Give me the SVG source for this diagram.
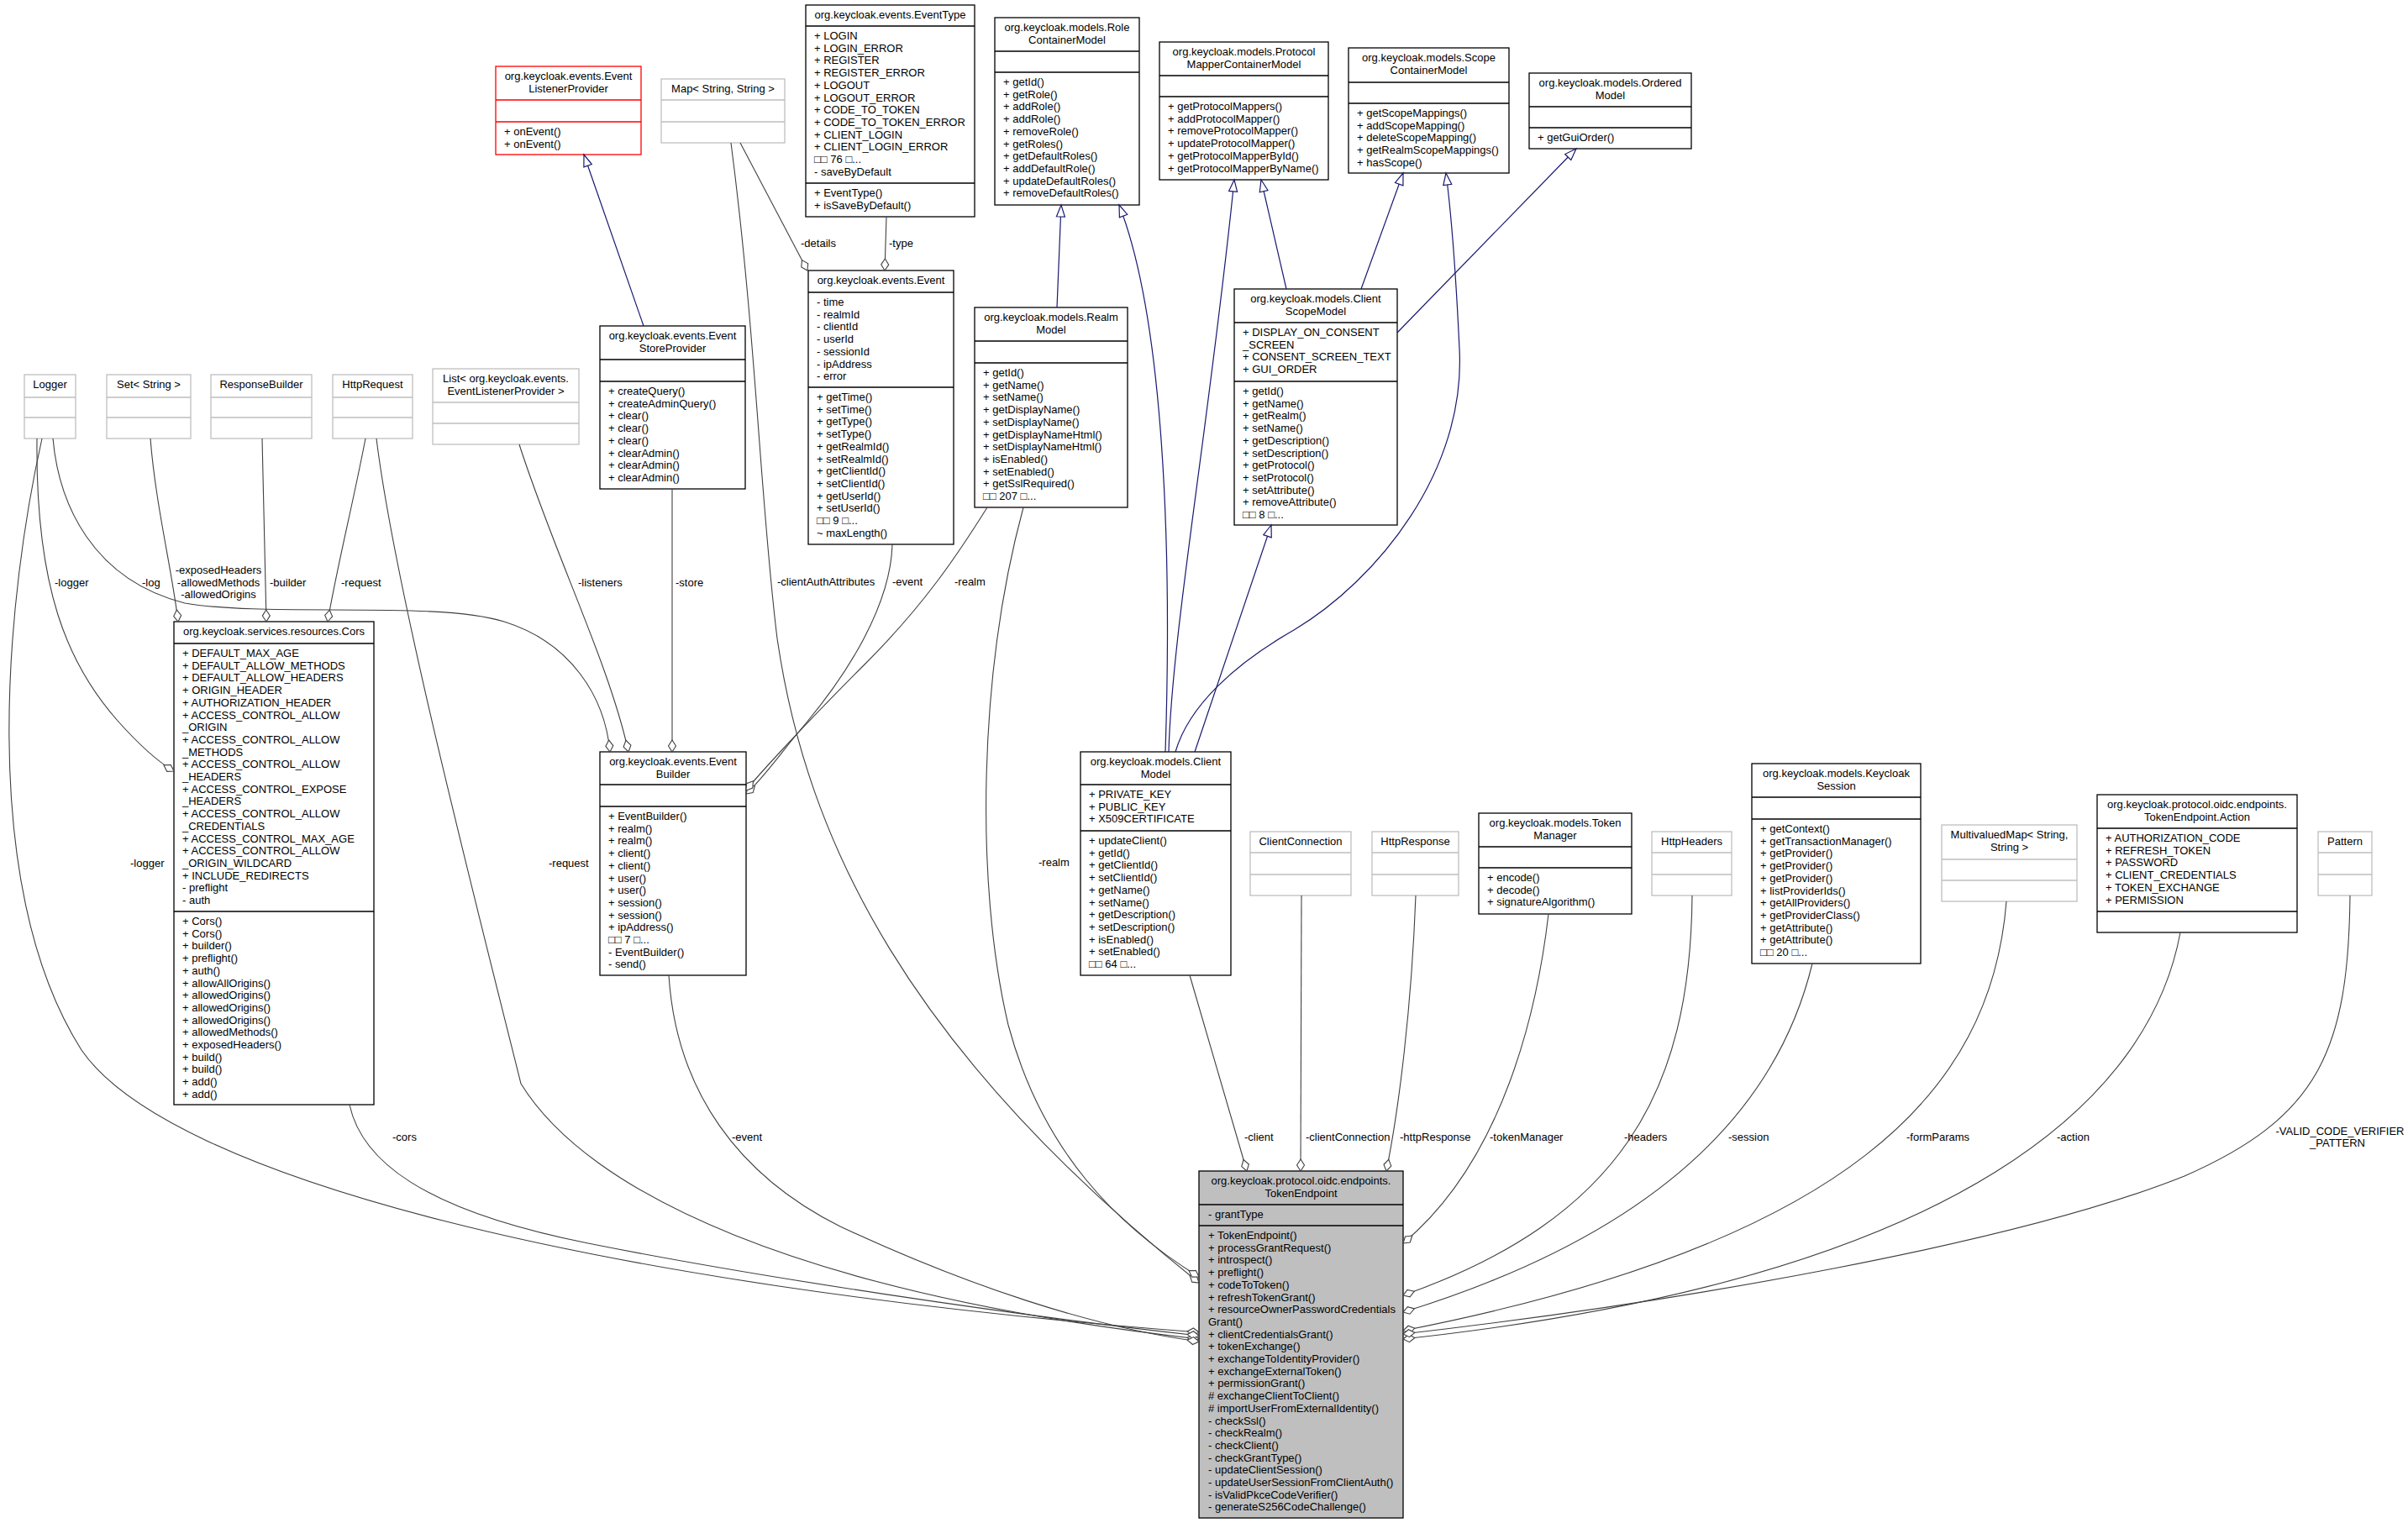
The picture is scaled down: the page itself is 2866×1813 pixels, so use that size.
<svg xmlns="http://www.w3.org/2000/svg" width="2866" height="1813" viewBox="0 0 2866 1813">
<defs>
<style>
.t{font-family:"Liberation Sans",Arial,Helvetica,sans-serif;font-size:13px;fill:#000}
.c{text-anchor:middle}
.b{fill:#fff;stroke:#000;stroke-width:1.3}
.g{fill:#fff;stroke:#bfbfbf;stroke-width:1.3}
.r{fill:#fff;stroke:#ff0000;stroke-width:1.3}
.m{fill:#bfbfbf;stroke:#000;stroke-width:1.3}
.dl{fill:none;stroke:#000;stroke-width:1.3}
.dg{fill:none;stroke:#bfbfbf;stroke-width:1.3}
.dr{fill:none;stroke:#ff0000;stroke-width:1.3}
.e{fill:none;stroke:#404040;stroke-width:1.1;marker-end:url(#dia)}
.i{fill:none;stroke:#191970;stroke-width:1.2;marker-end:url(#tri)}
</style>
<marker id="dia" markerUnits="userSpaceOnUse" markerWidth="18" markerHeight="14" viewBox="-16 -7 18 14" refX="0" refY="0" orient="auto" overflow="visible">
<path d="M0,0 L-7,-4.5 L-14,0 L-7,4.5 Z" fill="#fff" stroke="#404040" stroke-width="1.1"/>
</marker>
<marker id="tri" markerUnits="userSpaceOnUse" markerWidth="18" markerHeight="14" viewBox="-16 -7 18 14" refX="0" refY="0" orient="auto" overflow="visible">
<path d="M0,0 L-14,-5 L-14,5 Z" fill="#fff" stroke="#191970" stroke-width="1.2"/>
</marker>
</defs>
<rect x="0" y="0" width="2866" height="1813" fill="#fff"/>

<g id="nodes">
<g id="Logger">
<rect class="g" x="29" y="446" width="61" height="76"/>
<path class="dg" d="M29,473H90M29,497H90"/>
<text class="t c" x="59.5" y="462">Logger</text>
</g>
<g id="SetString">
<rect class="g" x="127" y="446" width="100" height="76"/>
<path class="dg" d="M127,473H227M127,497H227"/>
<text class="t c" x="177" y="462">Set&lt; String &gt;</text>
</g>
<g id="ResponseBuilder">
<rect class="g" x="251" y="446" width="120" height="76"/>
<path class="dg" d="M251,473H371M251,497H371"/>
<text class="t c" x="311" y="462">ResponseBuilder</text>
</g>
<g id="HttpRequest">
<rect class="g" x="396" y="446" width="95" height="76"/>
<path class="dg" d="M396,473H491M396,497H491"/>
<text class="t c" x="443.5" y="462">HttpRequest</text>
</g>
<g id="ListEventListenerProvider">
<rect class="g" x="515" y="439" width="174" height="90"/>
<path class="dg" d="M515,479H689M515,504H689"/>
<text class="t c" x="602" y="455"><tspan x="602">List&lt; org.keycloak.events.</tspan><tspan x="602" dy="14.7">EventListenerProvider &gt;</tspan></text>
</g>
<g id="EventListenerProvider">
<rect class="r" x="590" y="79" width="173" height="105"/>
<path class="dr" d="M590,119H763M590,145H763"/>
<text class="t c" x="676.5" y="95"><tspan x="676.5">org.keycloak.events.Event</tspan><tspan x="676.5" dy="14.7">ListenerProvider</tspan></text>
<text class="t" x="600" y="161"><tspan x="600">+ onEvent()</tspan><tspan x="600" dy="14.7">+ onEvent()</tspan></text>
</g>
<g id="MapStringString">
<rect class="g" x="787" y="94" width="147" height="76"/>
<path class="dg" d="M787,119H934M787,145H934"/>
<text class="t c" x="860.5" y="110">Map&lt; String, String &gt;</text>
</g>
<g id="EventType">
<rect class="b" x="959" y="6" width="201" height="252"/>
<path class="dl" d="M959,31H1160M959,218H1160"/>
<text class="t c" x="1059.5" y="22">org.keycloak.events.EventType</text>
<text class="t" x="969" y="47"><tspan x="969">+ LOGIN</tspan><tspan x="969" dy="14.7">+ LOGIN_ERROR</tspan><tspan x="969" dy="14.7">+ REGISTER</tspan><tspan x="969" dy="14.7">+ REGISTER_ERROR</tspan><tspan x="969" dy="14.7">+ LOGOUT</tspan><tspan x="969" dy="14.7">+ LOGOUT_ERROR</tspan><tspan x="969" dy="14.7">+ CODE_TO_TOKEN</tspan><tspan x="969" dy="14.7">+ CODE_TO_TOKEN_ERROR</tspan><tspan x="969" dy="14.7">+ CLIENT_LOGIN</tspan><tspan x="969" dy="14.7">+ CLIENT_LOGIN_ERROR</tspan><tspan x="969" dy="14.7">□□ 76 □...</tspan><tspan x="969" dy="14.7">- saveByDefault</tspan></text>
<text class="t" x="969" y="234"><tspan x="969">+ EventType()</tspan><tspan x="969" dy="14.7">+ isSaveByDefault()</tspan></text>
</g>
<g id="RoleContainerModel">
<rect class="b" x="1184" y="21" width="172" height="223"/>
<path class="dl" d="M1184,61H1356M1184,86H1356"/>
<text class="t c" x="1270" y="37"><tspan x="1270">org.keycloak.models.Role</tspan><tspan x="1270" dy="14.7">ContainerModel</tspan></text>
<text class="t" x="1194" y="102"><tspan x="1194">+ getId()</tspan><tspan x="1194" dy="14.7">+ getRole()</tspan><tspan x="1194" dy="14.7">+ addRole()</tspan><tspan x="1194" dy="14.7">+ addRole()</tspan><tspan x="1194" dy="14.7">+ removeRole()</tspan><tspan x="1194" dy="14.7">+ getRoles()</tspan><tspan x="1194" dy="14.7">+ getDefaultRoles()</tspan><tspan x="1194" dy="14.7">+ addDefaultRole()</tspan><tspan x="1194" dy="14.7">+ updateDefaultRoles()</tspan><tspan x="1194" dy="14.7">+ removeDefaultRoles()</tspan></text>
</g>
<g id="ProtocolMapperContainerModel">
<rect class="b" x="1380" y="50" width="201" height="164"/>
<path class="dl" d="M1380,90H1581M1380,115H1581"/>
<text class="t c" x="1480.5" y="66"><tspan x="1480.5">org.keycloak.models.Protocol</tspan><tspan x="1480.5" dy="14.7">MapperContainerModel</tspan></text>
<text class="t" x="1390" y="131"><tspan x="1390">+ getProtocolMappers()</tspan><tspan x="1390" dy="14.7">+ addProtocolMapper()</tspan><tspan x="1390" dy="14.7">+ removeProtocolMapper()</tspan><tspan x="1390" dy="14.7">+ updateProtocolMapper()</tspan><tspan x="1390" dy="14.7">+ getProtocolMapperById()</tspan><tspan x="1390" dy="14.7">+ getProtocolMapperByName()</tspan></text>
</g>
<g id="ScopeContainerModel">
<rect class="b" x="1605" y="57" width="191" height="149"/>
<path class="dl" d="M1605,98H1796M1605,123H1796"/>
<text class="t c" x="1700.5" y="73"><tspan x="1700.5">org.keycloak.models.Scope</tspan><tspan x="1700.5" dy="14.7">ContainerModel</tspan></text>
<text class="t" x="1615" y="139"><tspan x="1615">+ getScopeMappings()</tspan><tspan x="1615" dy="14.7">+ addScopeMapping()</tspan><tspan x="1615" dy="14.7">+ deleteScopeMapping()</tspan><tspan x="1615" dy="14.7">+ getRealmScopeMappings()</tspan><tspan x="1615" dy="14.7">+ hasScope()</tspan></text>
</g>
<g id="OrderedModel">
<rect class="b" x="1820" y="87" width="193" height="90"/>
<path class="dl" d="M1820,127H2013M1820,152H2013"/>
<text class="t c" x="1916.5" y="103"><tspan x="1916.5">org.keycloak.models.Ordered</tspan><tspan x="1916.5" dy="14.7">Model</tspan></text>
<text class="t" x="1830" y="168">+ getGuiOrder()</text>
</g>
<g id="Event">
<rect class="b" x="962" y="322" width="173" height="326"/>
<path class="dl" d="M962,348H1135M962,461H1135"/>
<text class="t c" x="1048.5" y="338">org.keycloak.events.Event</text>
<text class="t" x="972" y="364"><tspan x="972">- time</tspan><tspan x="972" dy="14.7">- realmId</tspan><tspan x="972" dy="14.7">- clientId</tspan><tspan x="972" dy="14.7">- userId</tspan><tspan x="972" dy="14.7">- sessionId</tspan><tspan x="972" dy="14.7">- ipAddress</tspan><tspan x="972" dy="14.7">- error</tspan></text>
<text class="t" x="972" y="477"><tspan x="972">+ getTime()</tspan><tspan x="972" dy="14.7">+ setTime()</tspan><tspan x="972" dy="14.7">+ getType()</tspan><tspan x="972" dy="14.7">+ setType()</tspan><tspan x="972" dy="14.7">+ getRealmId()</tspan><tspan x="972" dy="14.7">+ setRealmId()</tspan><tspan x="972" dy="14.7">+ getClientId()</tspan><tspan x="972" dy="14.7">+ setClientId()</tspan><tspan x="972" dy="14.7">+ getUserId()</tspan><tspan x="972" dy="14.7">+ setUserId()</tspan><tspan x="972" dy="14.7">□□ 9 □...</tspan><tspan x="972" dy="14.7">~ maxLength()</tspan></text>
</g>
<g id="RealmModel">
<rect class="b" x="1160" y="366" width="182" height="238"/>
<path class="dl" d="M1160,406H1342M1160,432H1342"/>
<text class="t c" x="1251" y="382"><tspan x="1251">org.keycloak.models.Realm</tspan><tspan x="1251" dy="14.7">Model</tspan></text>
<text class="t" x="1170" y="448"><tspan x="1170">+ getId()</tspan><tspan x="1170" dy="14.7">+ getName()</tspan><tspan x="1170" dy="14.7">+ setName()</tspan><tspan x="1170" dy="14.7">+ getDisplayName()</tspan><tspan x="1170" dy="14.7">+ setDisplayName()</tspan><tspan x="1170" dy="14.7">+ getDisplayNameHtml()</tspan><tspan x="1170" dy="14.7">+ setDisplayNameHtml()</tspan><tspan x="1170" dy="14.7">+ isEnabled()</tspan><tspan x="1170" dy="14.7">+ setEnabled()</tspan><tspan x="1170" dy="14.7">+ getSslRequired()</tspan><tspan x="1170" dy="14.7">□□ 207 □...</tspan></text>
</g>
<g id="EventStoreProvider">
<rect class="b" x="714" y="388" width="173" height="194"/>
<path class="dl" d="M714,428H887M714,454H887"/>
<text class="t c" x="800.5" y="404"><tspan x="800.5">org.keycloak.events.Event</tspan><tspan x="800.5" dy="14.7">StoreProvider</tspan></text>
<text class="t" x="724" y="470"><tspan x="724">+ createQuery()</tspan><tspan x="724" dy="14.7">+ createAdminQuery()</tspan><tspan x="724" dy="14.7">+ clear()</tspan><tspan x="724" dy="14.7">+ clear()</tspan><tspan x="724" dy="14.7">+ clear()</tspan><tspan x="724" dy="14.7">+ clearAdmin()</tspan><tspan x="724" dy="14.7">+ clearAdmin()</tspan><tspan x="724" dy="14.7">+ clearAdmin()</tspan></text>
</g>
<g id="ClientScopeModel">
<rect class="b" x="1469" y="344" width="194" height="281"/>
<path class="dl" d="M1469,384H1663M1469,454H1663"/>
<text class="t c" x="1566" y="360"><tspan x="1566">org.keycloak.models.Client</tspan><tspan x="1566" dy="14.7">ScopeModel</tspan></text>
<text class="t" x="1479" y="400"><tspan x="1479">+ DISPLAY_ON_CONSENT</tspan><tspan x="1479" dy="14.7">_SCREEN</tspan><tspan x="1479" dy="14.7">+ CONSENT_SCREEN_TEXT</tspan><tspan x="1479" dy="14.7">+ GUI_ORDER</tspan></text>
<text class="t" x="1479" y="470"><tspan x="1479">+ getId()</tspan><tspan x="1479" dy="14.7">+ getName()</tspan><tspan x="1479" dy="14.7">+ getRealm()</tspan><tspan x="1479" dy="14.7">+ setName()</tspan><tspan x="1479" dy="14.7">+ getDescription()</tspan><tspan x="1479" dy="14.7">+ setDescription()</tspan><tspan x="1479" dy="14.7">+ getProtocol()</tspan><tspan x="1479" dy="14.7">+ setProtocol()</tspan><tspan x="1479" dy="14.7">+ setAttribute()</tspan><tspan x="1479" dy="14.7">+ removeAttribute()</tspan><tspan x="1479" dy="14.7">□□ 8 □...</tspan></text>
</g>
<g id="Cors">
<rect class="b" x="207" y="740" width="238" height="575"/>
<path class="dl" d="M207,766H445M207,1085H445"/>
<text class="t c" x="326" y="756">org.keycloak.services.resources.Cors</text>
<text class="t" x="217" y="782"><tspan x="217">+ DEFAULT_MAX_AGE</tspan><tspan x="217" dy="14.7">+ DEFAULT_ALLOW_METHODS</tspan><tspan x="217" dy="14.7">+ DEFAULT_ALLOW_HEADERS</tspan><tspan x="217" dy="14.7">+ ORIGIN_HEADER</tspan><tspan x="217" dy="14.7">+ AUTHORIZATION_HEADER</tspan><tspan x="217" dy="14.7">+ ACCESS_CONTROL_ALLOW</tspan><tspan x="217" dy="14.7">_ORIGIN</tspan><tspan x="217" dy="14.7">+ ACCESS_CONTROL_ALLOW</tspan><tspan x="217" dy="14.7">_METHODS</tspan><tspan x="217" dy="14.7">+ ACCESS_CONTROL_ALLOW</tspan><tspan x="217" dy="14.7">_HEADERS</tspan><tspan x="217" dy="14.7">+ ACCESS_CONTROL_EXPOSE</tspan><tspan x="217" dy="14.7">_HEADERS</tspan><tspan x="217" dy="14.7">+ ACCESS_CONTROL_ALLOW</tspan><tspan x="217" dy="14.7">_CREDENTIALS</tspan><tspan x="217" dy="14.7">+ ACCESS_CONTROL_MAX_AGE</tspan><tspan x="217" dy="14.7">+ ACCESS_CONTROL_ALLOW</tspan><tspan x="217" dy="14.7">_ORIGIN_WILDCARD</tspan><tspan x="217" dy="14.7">+ INCLUDE_REDIRECTS</tspan><tspan x="217" dy="14.7">- preflight</tspan><tspan x="217" dy="14.7">- auth</tspan></text>
<text class="t" x="217" y="1101"><tspan x="217">+ Cors()</tspan><tspan x="217" dy="14.7">+ Cors()</tspan><tspan x="217" dy="14.7">+ builder()</tspan><tspan x="217" dy="14.7">+ preflight()</tspan><tspan x="217" dy="14.7">+ auth()</tspan><tspan x="217" dy="14.7">+ allowAllOrigins()</tspan><tspan x="217" dy="14.7">+ allowedOrigins()</tspan><tspan x="217" dy="14.7">+ allowedOrigins()</tspan><tspan x="217" dy="14.7">+ allowedOrigins()</tspan><tspan x="217" dy="14.7">+ allowedMethods()</tspan><tspan x="217" dy="14.7">+ exposedHeaders()</tspan><tspan x="217" dy="14.7">+ build()</tspan><tspan x="217" dy="14.7">+ build()</tspan><tspan x="217" dy="14.7">+ add()</tspan><tspan x="217" dy="14.7">+ add()</tspan></text>
</g>
<g id="EventBuilder">
<rect class="b" x="714" y="895" width="174" height="266"/>
<path class="dl" d="M714,934H888M714,960H888"/>
<text class="t c" x="801" y="911"><tspan x="801">org.keycloak.events.Event</tspan><tspan x="801" dy="14.7">Builder</tspan></text>
<text class="t" x="724" y="976"><tspan x="724">+ EventBuilder()</tspan><tspan x="724" dy="14.7">+ realm()</tspan><tspan x="724" dy="14.7">+ realm()</tspan><tspan x="724" dy="14.7">+ client()</tspan><tspan x="724" dy="14.7">+ client()</tspan><tspan x="724" dy="14.7">+ user()</tspan><tspan x="724" dy="14.7">+ user()</tspan><tspan x="724" dy="14.7">+ session()</tspan><tspan x="724" dy="14.7">+ session()</tspan><tspan x="724" dy="14.7">+ ipAddress()</tspan><tspan x="724" dy="14.7">□□ 7 □...</tspan><tspan x="724" dy="14.7">- EventBuilder()</tspan><tspan x="724" dy="14.7">- send()</tspan></text>
</g>
<g id="ClientModel">
<rect class="b" x="1286" y="895" width="179" height="266"/>
<path class="dl" d="M1286,934H1465M1286,989H1465"/>
<text class="t c" x="1375.5" y="911"><tspan x="1375.5">org.keycloak.models.Client</tspan><tspan x="1375.5" dy="14.7">Model</tspan></text>
<text class="t" x="1296" y="950"><tspan x="1296">+ PRIVATE_KEY</tspan><tspan x="1296" dy="14.7">+ PUBLIC_KEY</tspan><tspan x="1296" dy="14.7">+ X509CERTIFICATE</tspan></text>
<text class="t" x="1296" y="1005"><tspan x="1296">+ updateClient()</tspan><tspan x="1296" dy="14.7">+ getId()</tspan><tspan x="1296" dy="14.7">+ getClientId()</tspan><tspan x="1296" dy="14.7">+ setClientId()</tspan><tspan x="1296" dy="14.7">+ getName()</tspan><tspan x="1296" dy="14.7">+ setName()</tspan><tspan x="1296" dy="14.7">+ getDescription()</tspan><tspan x="1296" dy="14.7">+ setDescription()</tspan><tspan x="1296" dy="14.7">+ isEnabled()</tspan><tspan x="1296" dy="14.7">+ setEnabled()</tspan><tspan x="1296" dy="14.7">□□ 64 □...</tspan></text>
</g>
<g id="ClientConnection">
<rect class="g" x="1488" y="990" width="120" height="76"/>
<path class="dg" d="M1488,1015H1608M1488,1041H1608"/>
<text class="t c" x="1548" y="1006">ClientConnection</text>
</g>
<g id="HttpResponse">
<rect class="g" x="1633" y="990" width="103" height="76"/>
<path class="dg" d="M1633,1015H1736M1633,1041H1736"/>
<text class="t c" x="1684.5" y="1006">HttpResponse</text>
</g>
<g id="TokenManager">
<rect class="b" x="1760" y="968" width="182" height="120"/>
<path class="dl" d="M1760,1008H1942M1760,1033H1942"/>
<text class="t c" x="1851" y="984"><tspan x="1851">org.keycloak.models.Token</tspan><tspan x="1851" dy="14.7">Manager</tspan></text>
<text class="t" x="1770" y="1049"><tspan x="1770">+ encode()</tspan><tspan x="1770" dy="14.7">+ decode()</tspan><tspan x="1770" dy="14.7">+ signatureAlgorithm()</tspan></text>
</g>
<g id="HttpHeaders">
<rect class="g" x="1966" y="990" width="95" height="76"/>
<path class="dg" d="M1966,1015H2061M1966,1041H2061"/>
<text class="t c" x="2013.5" y="1006">HttpHeaders</text>
</g>
<g id="KeycloakSession">
<rect class="b" x="2085" y="909" width="201" height="238"/>
<path class="dl" d="M2085,949H2286M2085,975H2286"/>
<text class="t c" x="2185.5" y="925"><tspan x="2185.5">org.keycloak.models.Keycloak</tspan><tspan x="2185.5" dy="14.7">Session</tspan></text>
<text class="t" x="2095" y="991"><tspan x="2095">+ getContext()</tspan><tspan x="2095" dy="14.7">+ getTransactionManager()</tspan><tspan x="2095" dy="14.7">+ getProvider()</tspan><tspan x="2095" dy="14.7">+ getProvider()</tspan><tspan x="2095" dy="14.7">+ getProvider()</tspan><tspan x="2095" dy="14.7">+ listProviderIds()</tspan><tspan x="2095" dy="14.7">+ getAllProviders()</tspan><tspan x="2095" dy="14.7">+ getProviderClass()</tspan><tspan x="2095" dy="14.7">+ getAttribute()</tspan><tspan x="2095" dy="14.7">+ getAttribute()</tspan><tspan x="2095" dy="14.7">□□ 20 □...</tspan></text>
</g>
<g id="MultivaluedMap">
<rect class="g" x="2311" y="982" width="161" height="91"/>
<path class="dg" d="M2311,1023H2472M2311,1048H2472"/>
<text class="t c" x="2391.5" y="998"><tspan x="2391.5">MultivaluedMap&lt; String,</tspan><tspan x="2391.5" dy="14.7">String &gt;</tspan></text>
</g>
<g id="TokenEndpointAction">
<rect class="b" x="2496" y="946" width="238" height="164"/>
<path class="dl" d="M2496,986H2734M2496,1085H2734"/>
<text class="t c" x="2615" y="962"><tspan x="2615">org.keycloak.protocol.oidc.endpoints.</tspan><tspan x="2615" dy="14.7">TokenEndpoint.Action</tspan></text>
<text class="t" x="2506" y="1002"><tspan x="2506">+ AUTHORIZATION_CODE</tspan><tspan x="2506" dy="14.7">+ REFRESH_TOKEN</tspan><tspan x="2506" dy="14.7">+ PASSWORD</tspan><tspan x="2506" dy="14.7">+ CLIENT_CREDENTIALS</tspan><tspan x="2506" dy="14.7">+ TOKEN_EXCHANGE</tspan><tspan x="2506" dy="14.7">+ PERMISSION</tspan></text>
</g>
<g id="Pattern">
<rect class="g" x="2759" y="990" width="64" height="76"/>
<path class="dg" d="M2759,1015H2823M2759,1041H2823"/>
<text class="t c" x="2791" y="1006">Pattern</text>
</g>
<g id="TokenEndpoint">
<rect class="m" x="1427" y="1394" width="243" height="413"/>
<path class="dl" d="M1427,1434H1670M1427,1459H1670"/>
<text class="t c" x="1548.5" y="1410"><tspan x="1548.5">org.keycloak.protocol.oidc.endpoints.</tspan><tspan x="1548.5" dy="14.7">TokenEndpoint</tspan></text>
<text class="t" x="1438" y="1450">- grantType</text>
<text class="t" x="1438" y="1475"><tspan x="1438">+ TokenEndpoint()</tspan><tspan x="1438" dy="14.7">+ processGrantRequest()</tspan><tspan x="1438" dy="14.7">+ introspect()</tspan><tspan x="1438" dy="14.7">+ preflight()</tspan><tspan x="1438" dy="14.7">+ codeToToken()</tspan><tspan x="1438" dy="14.7">+ refreshTokenGrant()</tspan><tspan x="1438" dy="14.7">+ resourceOwnerPasswordCredentials</tspan><tspan x="1438" dy="14.7">Grant()</tspan><tspan x="1438" dy="14.7">+ clientCredentialsGrant()</tspan><tspan x="1438" dy="14.7">+ tokenExchange()</tspan><tspan x="1438" dy="14.7">+ exchangeToIdentityProvider()</tspan><tspan x="1438" dy="14.7">+ exchangeExternalToken()</tspan><tspan x="1438" dy="14.7">+ permissionGrant()</tspan><tspan x="1438" dy="14.7"># exchangeClientToClient()</tspan><tspan x="1438" dy="14.7"># importUserFromExternalIdentity()</tspan><tspan x="1438" dy="14.7">- checkSsl()</tspan><tspan x="1438" dy="14.7">- checkRealm()</tspan><tspan x="1438" dy="14.7">- checkClient()</tspan><tspan x="1438" dy="14.7">- checkGrantType()</tspan><tspan x="1438" dy="14.7">- updateClientSession()</tspan><tspan x="1438" dy="14.7">- updateUserSessionFromClientAuth()</tspan><tspan x="1438" dy="14.7">- isValidPkceCodeVerifier()</tspan><tspan x="1438" dy="14.7">- generateS256CodeChallenge()</tspan></text>
</g>
</g>

<g id="connectors">
<!-- generalizations -->
<path class="i" d="M766,388 L695,184"/>
<path class="i" d="M1258,366 L1263,244"/>
<path class="i" d="M1387,895 C1395,650 1385,380 1332,244"/>
<path class="i" d="M1391,895 C1395,750 1440,500 1469,214"/>
<path class="i" d="M1531,344 L1501,214"/>
<path class="i" d="M1620,344 L1670,206"/>
<path class="i" d="M1663,396 L1876,177"/>
<path class="i" d="M1399,895 C1415,840 1470,790 1540,750 C1640,690 1745,560 1737,415 C1733,330 1728,260 1721,206"/>
<path class="i" d="M1422,895 L1513,625"/>
<!-- usage relations -->
<path class="e" d="M50,522 C10,700 -30,1050 97,1250 C200,1400 700,1530 1427,1586"/>
<path class="e" d="M44,522 C42,700 80,790 140,858 C165,886 185,905 207,918"/>
<path class="e" d="M63,522 C70,600 110,690 220,718 C320,735 520,715 600,740 C680,765 720,830 726,895"/>
<path class="e" d="M179,522 C185,600 205,680 212,740"/>
<path class="e" d="M312,522 L317,740"/>
<path class="e" d="M435,522 C420,600 400,680 390,740"/>
<path class="e" d="M448,522 C470,700 560,1050 620,1290 C700,1420 950,1540 1427,1594"/>
<path class="e" d="M618,529 C660,660 725,790 748,895"/>
<path class="e" d="M800,582 L800,895"/>
<path class="e" d="M1062,648 C1060,720 1010,800 960,860 C930,895 910,925 888,945"/>
<path class="e" d="M1175,604 C1140,660 1100,720 1030,790 C960,860 900,925 888,941"/>
<path class="e" d="M881,170 L961,322"/>
<path class="e" d="M1055,258 L1053,322"/>
<path class="e" d="M870,170 C900,400 905,600 925,760 C960,1000 1080,1250 1427,1527"/>
<path class="e" d="M1218,604 C1165,800 1160,1050 1200,1220 C1240,1370 1330,1460 1427,1520"/>
<path class="e" d="M416,1315 C430,1380 500,1440 700,1480 C900,1520 1200,1565 1427,1590"/>
<path class="e" d="M796,1161 C805,1300 880,1400 1000,1460 C1150,1530 1300,1580 1427,1597"/>
<path class="e" d="M1416,1161 L1484,1394"/>
<path class="e" d="M1549,1066 L1548,1394"/>
<path class="e" d="M1685,1066 C1680,1200 1665,1320 1650,1394"/>
<path class="e" d="M1843,1088 C1830,1200 1790,1380 1670,1480"/>
<path class="e" d="M2014,1066 C2012,1300 1930,1450 1670,1542"/>
<path class="e" d="M2157,1147 C2120,1300 2000,1460 1670,1562"/>
<path class="e" d="M2388,1073 C2370,1300 2200,1480 1670,1584"/>
<path class="e" d="M2595,1110 C2560,1300 2350,1520 1670,1594"/>
<path class="e" d="M2797,1066 C2795,1250 2760,1330 2600,1400 C2400,1480 2000,1550 1670,1588"/>
<!-- labels -->
<text class="t" x="65" y="697.5">-logger</text>
<text class="t" x="169" y="697.5">-log</text>
<text class="t c" x="260" y="682.5">-exposedHeaders</text>
<text class="t c" x="260" y="697.5">-allowedMethods</text>
<text class="t c" x="260" y="711.5">-allowedOrigins</text>
<text class="t" x="321" y="697.5">-builder</text>
<text class="t" x="406" y="697.5">-request</text>
<text class="t" x="688" y="697.5">-listeners</text>
<text class="t" x="804" y="697.5">-store</text>
<text class="t" x="953" y="293.5">-details</text>
<text class="t" x="1058" y="293.5">-type</text>
<text class="t" x="925" y="697">-clientAuthAttributes</text>
<text class="t" x="1062" y="697">-event</text>
<text class="t" x="1136" y="697">-realm</text>
<text class="t" x="155" y="1031.5">-logger</text>
<text class="t" x="653" y="1031.5">-request</text>
<text class="t" x="1236" y="1031">-realm</text>
<text class="t" x="467" y="1358">-cors</text>
<text class="t" x="871" y="1358">-event</text>
<text class="t" x="1481" y="1358">-client</text>
<text class="t" x="1554" y="1358">-clientConnection</text>
<text class="t" x="1666" y="1358">-httpResponse</text>
<text class="t" x="1773" y="1358">-tokenManager</text>
<text class="t" x="1933" y="1358">-headers</text>
<text class="t" x="2057" y="1358">-session</text>
<text class="t" x="2269" y="1358">-formParams</text>
<text class="t" x="2448" y="1358">-action</text>
<text class="t c" x="2785" y="1351">-VALID_CODE_VERIFIER</text>
<text class="t c" x="2782" y="1365">_PATTERN</text>
</g>
</svg>
